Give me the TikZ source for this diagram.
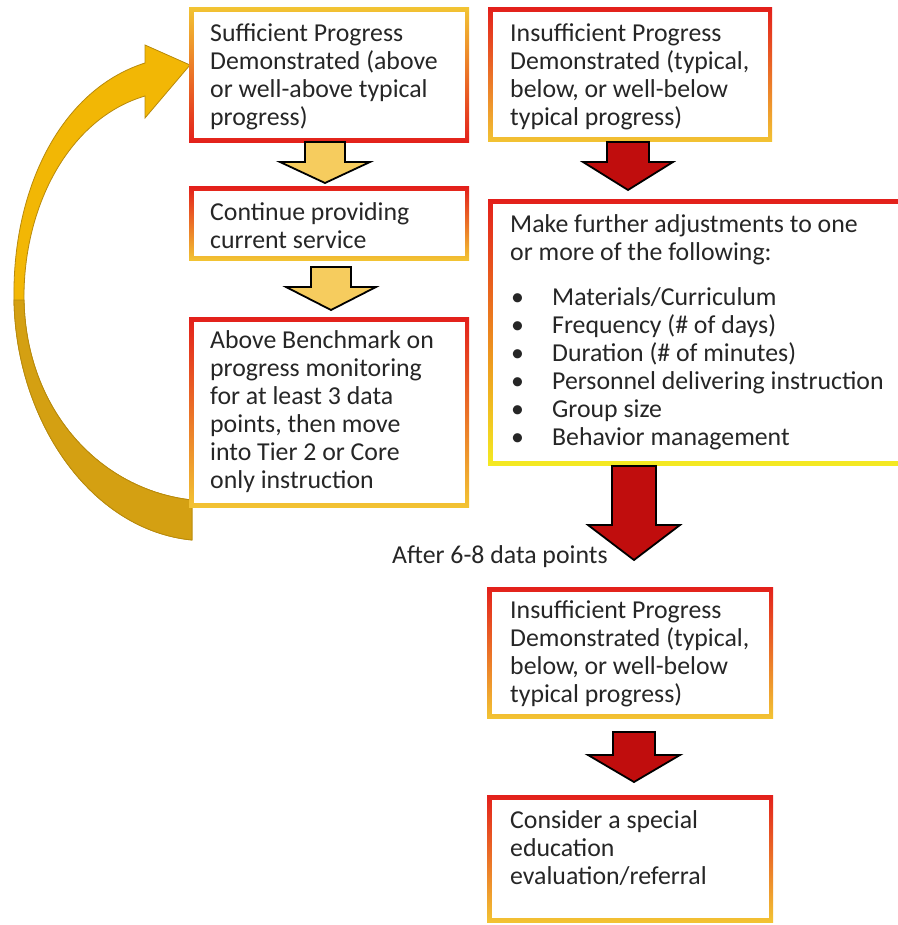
\documentclass[tikz,border=0pt]{standalone}
\usepackage{fontspec}
\setmainfont{Carlito}
\usetikzlibrary{calc}
\definecolor{redB}{HTML}{E3201B}
\definecolor{orangeB}{HTML}{EE8A2A}
\definecolor{yellowB}{HTML}{F2C333}
\definecolor{paleB}{HTML}{F3D2B8}
\definecolor{brightY}{HTML}{F4EA22}
\definecolor{goldA}{HTML}{F6CC5E}
\definecolor{redA}{HTML}{C00D0D}
\definecolor{curveL}{HTML}{F2B705}
\definecolor{curveD}{HTML}{D4A012}
\definecolor{curveE}{HTML}{B88A0C}
\definecolor{txtc}{HTML}{262626}
\newcommand{\blockdown}[7]{%
  \filldraw[#7] (#1-#5,#2) -- (#1+#5,#2) -- (#1+#5,#3) -- (#1+#6,#3) -- (#1,#4) -- (#1-#6,#3) -- (#1-#5,#3) -- cycle;}
\begin{document}
\begin{tikzpicture}[x=1pt,y=-1pt,
  frame/.style={rectangle, inner sep=0pt, draw=none,
    path picture={\fill[white] ([xshift=4.5pt,yshift=-4.5pt]path picture bounding box.north west) rectangle ([xshift=-4.5pt,yshift=4.5pt]path picture bounding box.south east);}},
  frameRY/.style={frame, top color=redB, middle color=orangeB, bottom color=yellowB},
  frameRB/.style={frame, top color=redB, middle color=orangeB, bottom color=brightY},
  frameYR/.style={frame, top color=yellowB, middle color=paleB, bottom color=redB},
  txt/.style={anchor=north west, inner sep=0pt, align=left, font=\fontsize{25.8}{28}\selectfont, text=txtc},
  yarrow/.style={fill=goldA, draw=black, line width=1.8pt, line join=miter},
  rarrow/.style={fill=redA, draw=black, line width=1.8pt, line join=miter}]
\useasboundingbox (0,0) rectangle (897,925);
\fill[white] (0,0) rectangle (897,925);

% curved return arrow
\coordinate (cbot) at (192,520);
\coordinate (ctip) at (190,65);
\filldraw[fill=curveL, draw=curveE, line width=0.8pt] (145,63) .. controls (60,90) and (12,190) .. (14,300) .. controls (16,420) and (90,530) .. (192,540) -- (192,500) .. controls (100,490) and (26,410) .. (24,300) .. controls (23,205) and (70,118) .. (145,96) -- (145,118) -- (ctip) -- (145,45) -- cycle;
\filldraw[fill=curveD, draw=curveE, line width=0.8pt] (14,300) .. controls (16,420) and (90,530) .. (192,540) -- (192,500) .. controls (100,490) and (26,410) .. (24,300) -- cycle;

% frames
\node[frameYR, minimum width=280pt, minimum height=135pt] (b1) at (329,75.5) {};
\node[frameRY, minimum width=284pt, minimum height=134pt] (b2) at (630,75) {};
\node[frameRY, minimum width=280pt, minimum height=73pt] (b3) at (329,223.5) {};
\node[frameRY, minimum width=280pt, minimum height=190pt] (b4) at (329,412) {};
\node[frameRB, minimum width=414pt, minimum height=265pt] (b5) at (695,332.5) {};
\node[frameRY, minimum width=286pt, minimum height=131pt] (b6) at (630,652.5) {};
\node[frameRY, minimum width=286pt, minimum height=127pt] (b7) at (630,858.5) {};

% texts
\node[txt] (t1) at (210,23) {Sufficient Progress\\Demonstrated (above\\or well-above typical\\progress)};
\node[txt] (t2) at (510,23) {Insufficient Progress\\Demonstrated (typical,\\below, or well-below\\typical progress)};
\node[txt] (t3) at (210,202) {Continue providing\\current service};
\node[txt] (t4) at (210,330) {Above Benchmark on\\progress monitoring\\for at least 3 data\\points, then move\\into Tier 2 or Core\\only instruction};
\node[txt] (t5) at (510,214) {Make further adjustments to one\\or more of the following:\\[17pt]
\makebox[42pt][l]{\hspace{1pt}•}Materials/Curriculum\\
\makebox[42pt][l]{\hspace{1pt}•}Frequency (\# of days)\\
\makebox[42pt][l]{\hspace{1pt}•}Duration (\# of minutes)\\
\makebox[42pt][l]{\hspace{1pt}•}Personnel delivering instruction\\
\makebox[42pt][l]{\hspace{1pt}•}Group size\\
\makebox[42pt][l]{\hspace{1pt}•}Behavior management};
\node[txt] (t6) at (510,600) {Insufficient Progress\\Demonstrated (typical,\\below, or well-below\\typical progress)};
\node[txt] (t7) at (510,810) {Consider a special\\education\\evaluation/referral};
\node[txt, anchor=west] (lab) at (392,557) {After 6-8 data points};

% block arrows
\blockdown{325}{142}{162}{183}{20}{45}{yarrow}
\blockdown{331}{267}{287}{310}{20}{45}{yarrow}
\blockdown{628}{142}{162}{190}{21}{45}{rarrow}
\blockdown{634}{466}{525}{560}{22}{46}{rarrow}
\blockdown{634}{732}{755}{782}{21}{46}{rarrow}
\end{tikzpicture}
\end{document}
